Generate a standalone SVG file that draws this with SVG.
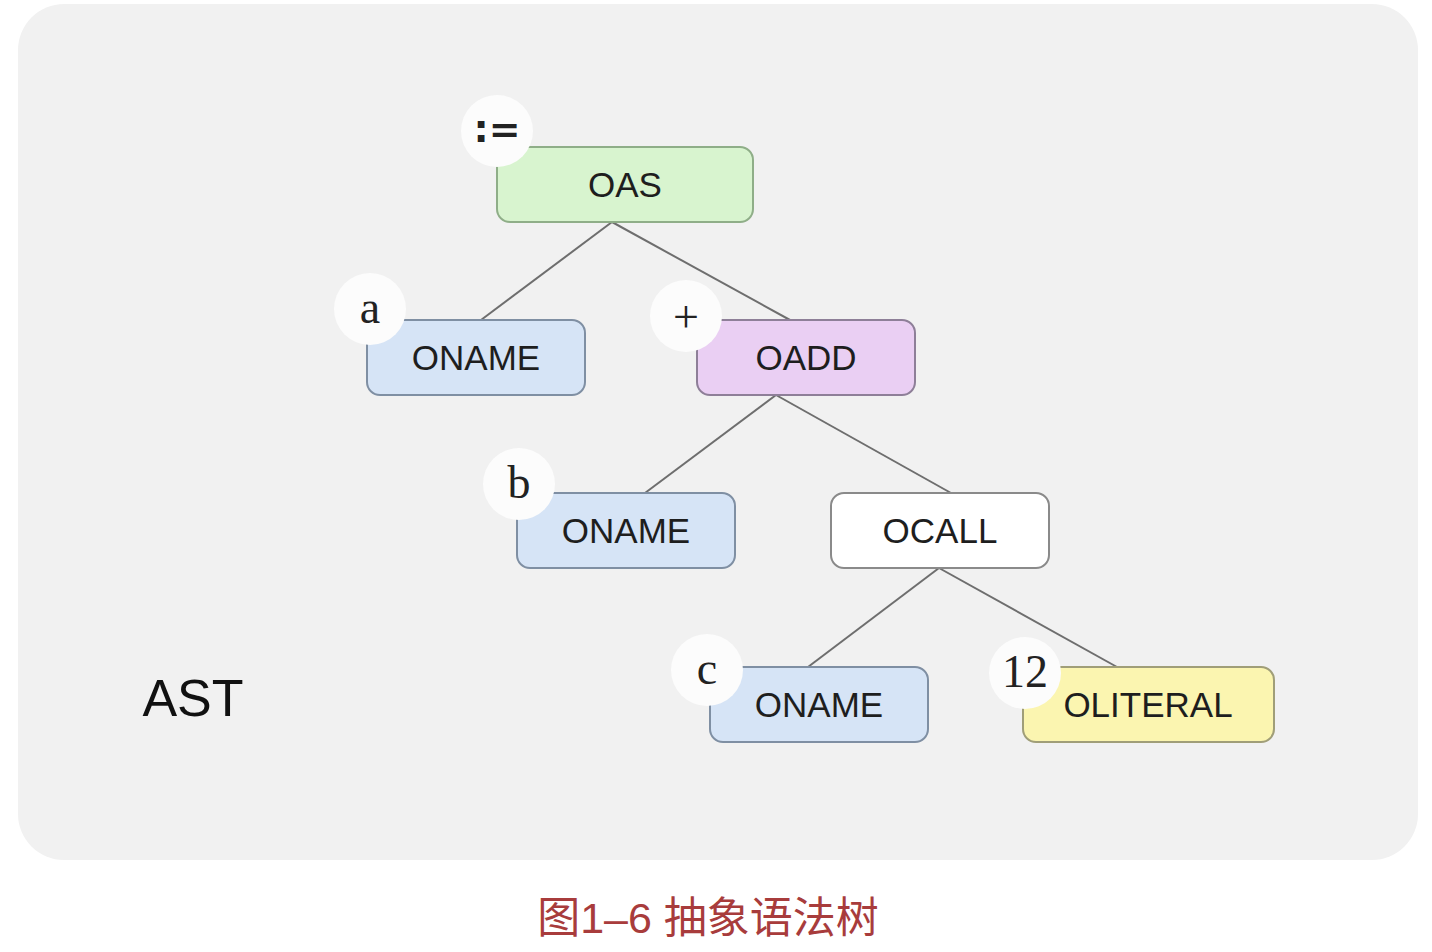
<svg xmlns="http://www.w3.org/2000/svg" width="1432" height="952" viewBox="0 0 1432 952">
<style>
.box{stroke-width:2}
.lbl{font-family:"Liberation Sans",Arial,sans-serif;font-size:35px;fill:#1e1e1e;text-anchor:middle;dominant-baseline:central}
.tag{fill:#fcfcfc}
.tagt{font-family:"Liberation Serif","Times New Roman",serif;font-size:46px;fill:#222;text-anchor:middle;dominant-baseline:central}
.edge{stroke:#6e6e6e;stroke-width:2;fill:none}
.name{fill:#d6e4f6;stroke:#7f8fa3}
</style>
<rect x="0" y="0" width="1432" height="952" fill="#ffffff"/>
<rect x="18" y="4" width="1400" height="856" rx="46" fill="#f1f1f1"/>
<g id="connectors">
<line class="edge" x1="612" y1="222" x2="481" y2="320"/>
<line class="edge" x1="612" y1="222" x2="790" y2="320"/>
<line class="edge" x1="776" y1="395" x2="645" y2="493"/>
<line class="edge" x1="776" y1="395" x2="951" y2="493"/>
<line class="edge" x1="939" y1="568" x2="808" y2="667"/>
<line class="edge" x1="939" y1="568" x2="1117" y2="667"/>
</g>
<g id="oas">
<rect class="box" x="497" y="147" width="256" height="75" rx="13" fill="#d8f4cf" stroke="#8fae88"/>
<text class="lbl" x="625" y="184">OAS</text>
<circle class="tag" cx="497" cy="131" r="36"/>
<text class="tagt" x="497" y="129" style="font-family:'DejaVu Sans',sans-serif;font-size:38px;font-weight:bold">:=</text>
</g>
<g id="oname-a">
<rect class="box name" x="367" y="320" width="218" height="75" rx="13"/>
<text class="lbl" x="476" y="357">ONAME</text>
<circle class="tag" cx="370" cy="309" r="36"/>
<text class="tagt" x="370" y="307">a</text>
</g>
<g id="oadd">
<rect class="box" x="697" y="320" width="218" height="75" rx="13" fill="#eacff3" stroke="#8e7f98"/>
<text class="lbl" x="806" y="357">OADD</text>
<circle class="tag" cx="686" cy="316" r="36"/>
<text class="tagt" x="686" y="316">+</text>
</g>
<g id="oname-b">
<rect class="box name" x="517" y="493" width="218" height="75" rx="13"/>
<text class="lbl" x="626" y="530">ONAME</text>
<circle class="tag" cx="519" cy="484" r="36"/>
<text class="tagt" x="519" y="482">b</text>
</g>
<g id="ocall">
<rect class="box" x="831" y="493" width="218" height="75" rx="13" fill="#ffffff" stroke="#8a8a8a"/>
<text class="lbl" x="940" y="530">OCALL</text>
</g>
<g id="oname-c">
<rect class="box name" x="710" y="667" width="218" height="75" rx="13"/>
<text class="lbl" x="819" y="704">ONAME</text>
<circle class="tag" cx="707" cy="670" r="36"/>
<text class="tagt" x="707" y="668">c</text>
</g>
<g id="oliteral">
<rect class="box" x="1023" y="667" width="251" height="75" rx="13" fill="#fbf5b0" stroke="#a09e78"/>
<text class="lbl" x="1148" y="704">OLITERAL</text>
<circle class="tag" cx="1025" cy="673" r="36"/>
<text class="tagt" x="1025" y="671">12</text>
</g>
<text x="193" y="698" font-family="Liberation Sans,Arial,sans-serif" font-size="52" fill="#111" text-anchor="middle" dominant-baseline="central">AST</text>
<text x="708" y="918" font-family="'Liberation Sans','Noto Sans CJK SC',sans-serif" font-size="43" fill="#a83c3c" text-anchor="middle" dominant-baseline="central">图1–6 抽象语法树</text>
</svg>
